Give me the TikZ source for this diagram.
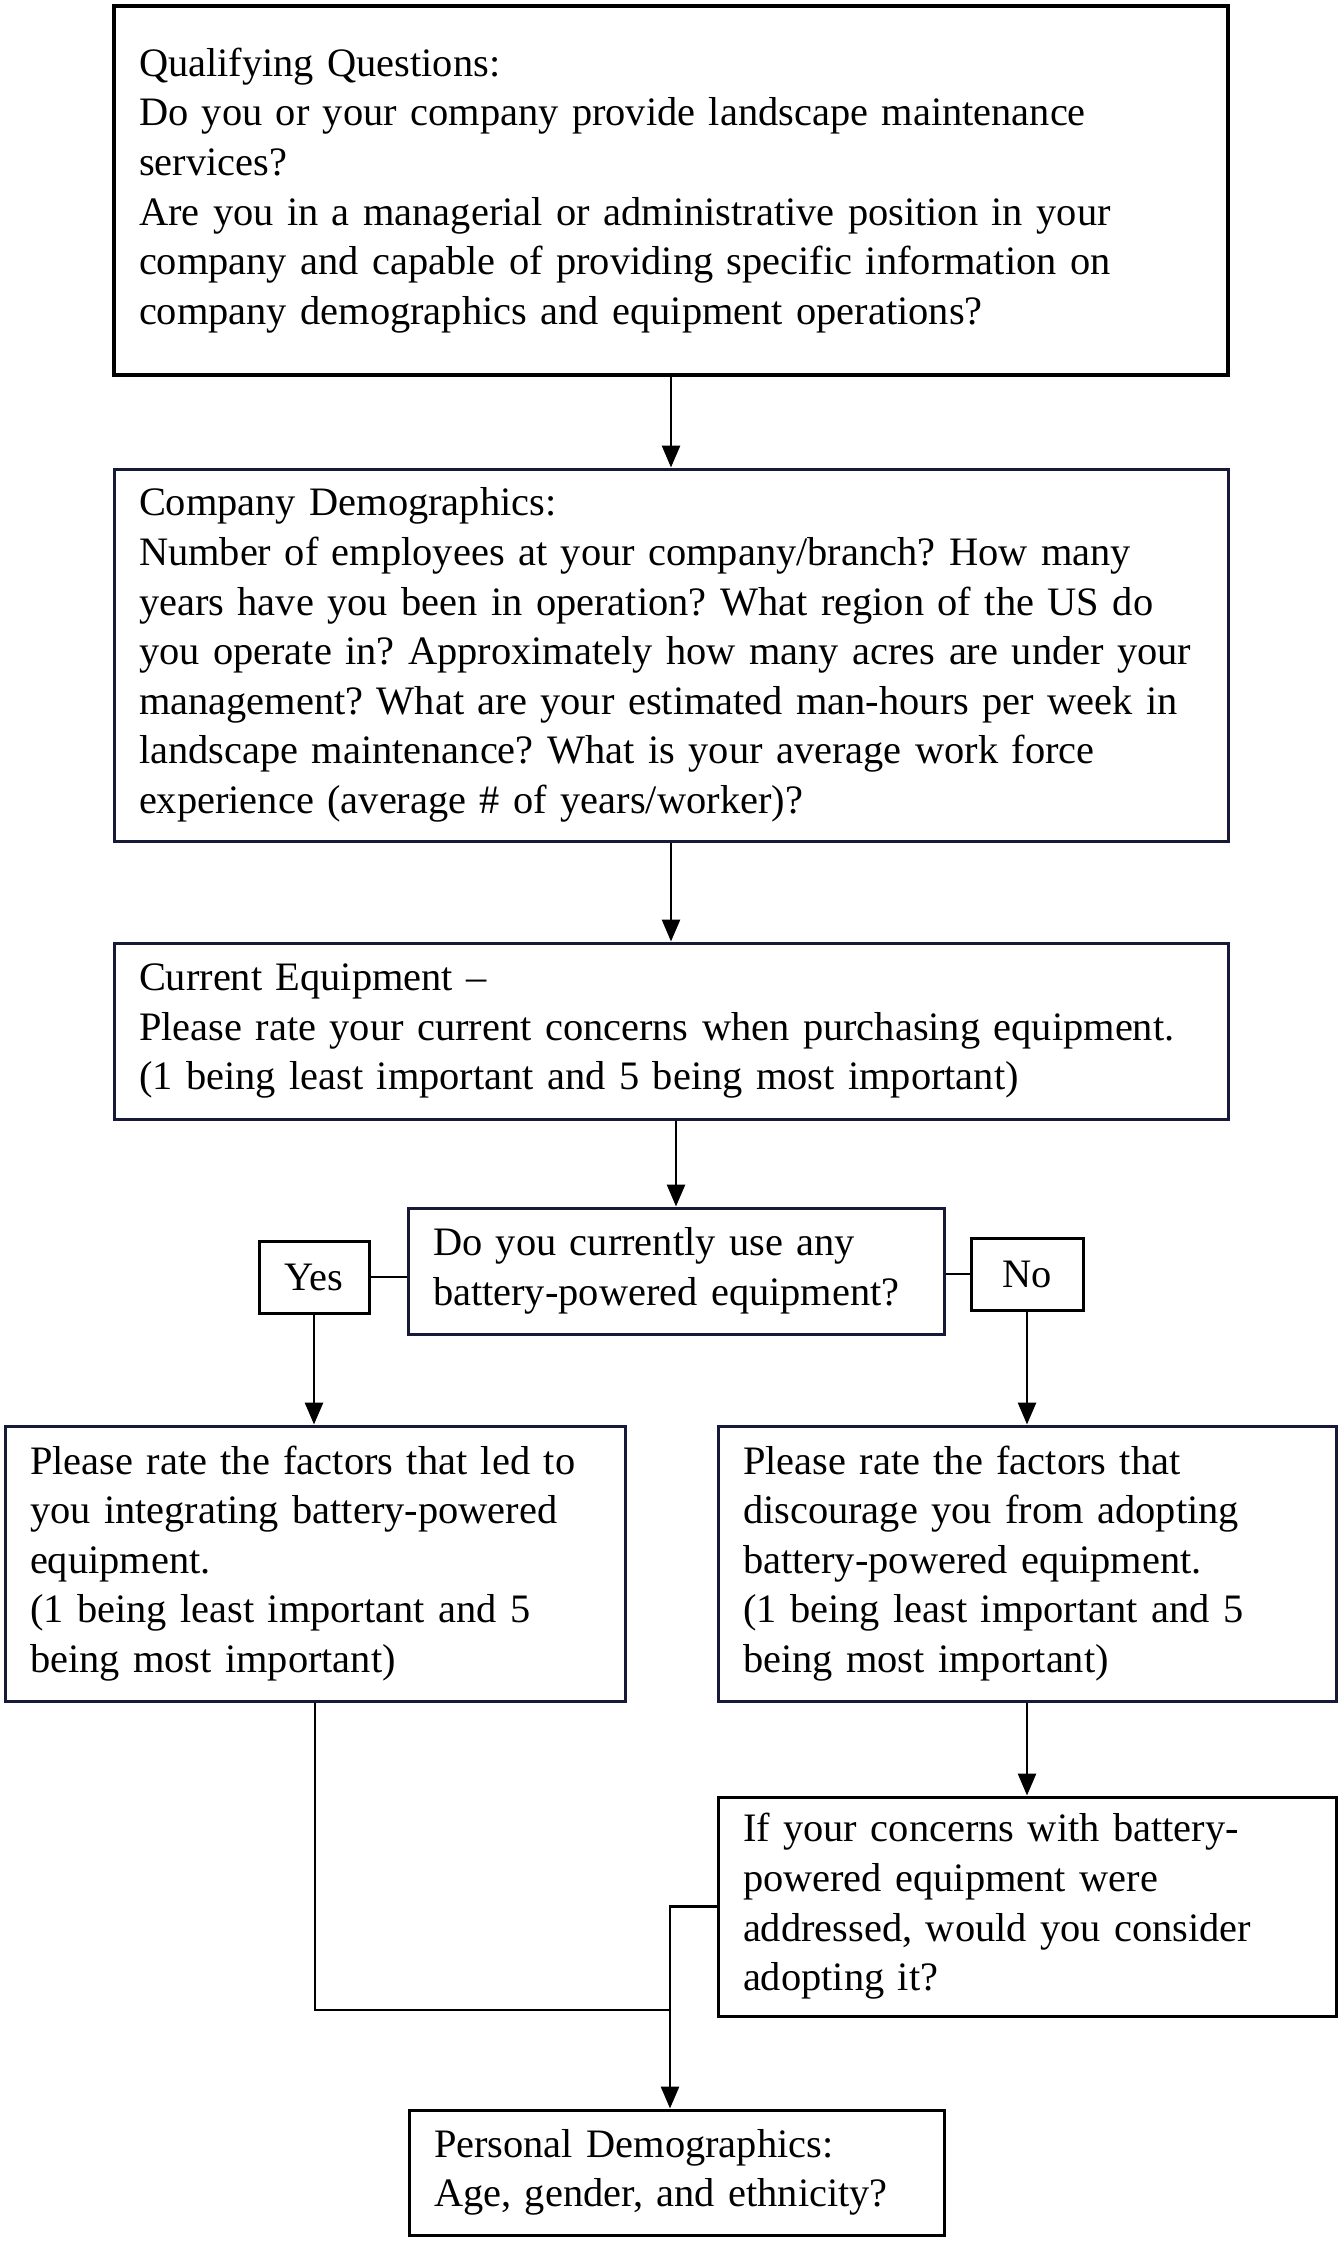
\documentclass[tikz,border=0pt]{standalone}
\usepackage{fontspec}
\setmainfont{Liberation Serif}
\usetikzlibrary{arrows.meta}
\definecolor{boxnavy}{RGB}{22,26,56}
\newcommand{\qsize}{\fontsize{20.2}{24.8}\selectfont\frenchspacing}

\begin{document}
\begin{tikzpicture}[x=0.5pt, y=-0.5pt,
	qbox/.style={draw, line width=1.5pt, inner xsep=12.5pt, align=left, font=\qsize},
	tag/.style={draw, line width=1.5pt, align=center, font=\qsize,
		minimum width=55pt, minimum height=36pt},
	arr/.style={line width=1.4pt, -{Triangle[length=11pt,width=9pt]}},
	lnk/.style={line width=1.4pt}]
	\useasboundingbox (0,0) rectangle (1344,2244);
	% main column
	\node[qbox, line width=2pt, text width=532pt, minimum height=184.5pt] (qual) at (671,190.5)
		{Qualifying Questions:\\
		Do you or your company provide landscape maintenance\\
		services?\\
		Are you in a managerial or administrative position in your\\
		company and capable of providing specific information on\\
		company demographics and equipment operations?};
	\node[qbox, draw=boxnavy, text width=532pt, minimum height=186pt] (compdem) at (671,655)
		{Company Demographics:\\
		Number of employees at your company/branch? How many\\
		years have you been in operation? What region of the US do\\
		you operate in? Approximately how many acres are under your\\
		management? What are your estimated man-hours per week in\\
		landscape maintenance? What is your average work force\\
		experience (average \# of years/worker)?};
	\node[qbox, draw=boxnavy, text width=532pt, minimum height=88pt] (curequip) at (671,1031)
		{Current Equipment --\\
		Please rate your current concerns when purchasing equipment.\\
		(1 being least important and 5 being most important)};
	\node[qbox, draw=boxnavy, text width=243pt, minimum height=63pt] (battq) at (676,1271)
		{Do you currently use any\\ battery-powered equipment?};
	\node[tag] (yes) at (314,1277) {Yes};
	\node[tag, minimum width=56pt] (no) at (1027,1274) {No};
	% branches
	\node[qbox, draw=boxnavy, text width=285pt, minimum height=137.5pt] (ratewhy) at (315,1563.5)
		{Please rate the factors that led to\\
		you integrating battery-powered\\
		equipment.\\
		(1 being least important and 5\\
		being most important)};
	\node[qbox, draw=boxnavy, text width=284pt, minimum height=137.5pt] (ratewhynot) at (1027,1563.5)
		{Please rate the factors that\\
		discourage you from adopting\\
		battery-powered equipment.\\
		(1 being least important and 5\\
		being most important)};
	\node[qbox, text width=284pt, minimum height=109.5pt] (consider) at (1027,1906.5)
		{If your concerns with battery-\\
		powered equipment were\\
		addressed, would you consider\\
		adopting it?};
	\node[qbox, text width=242.5pt, minimum height=62.5pt] (persdem) at (676.5,2172.5)
		{Personal Demographics:\\ Age, gender, and ethnicity?};
	\coordinate (join) at (670,2010);
	% connectors
	\draw[arr] (qual.south) -- (compdem.north);
	\draw[arr] (compdem.south) -- (curequip.north);
	\draw[arr] (curequip.south -| battq.north) -- (battq.north);
	\draw[lnk] (yes.east) -- (yes.east -| battq.west);
	\draw[lnk] (no.west) -- (no.west -| battq.east);
	\draw[arr] (yes.south) -- (yes.south |- ratewhy.north);
	\draw[arr] (no.south) -- (no.south |- ratewhynot.north);
	\draw[arr] (ratewhynot.south) -- (consider.north);
	\draw[lnk] (ratewhy.south) |- (join);
	\draw[arr] (consider.west) -| (join |- persdem.north);
\end{tikzpicture}
\end{document}
